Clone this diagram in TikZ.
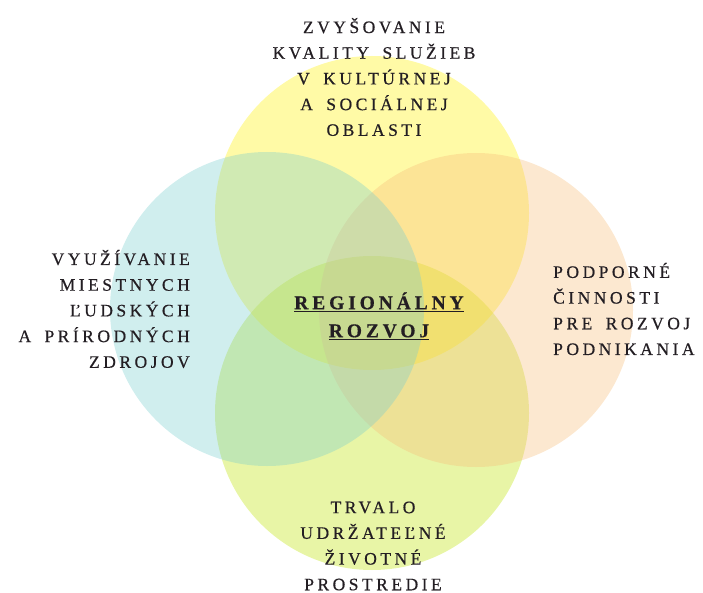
\documentclass[tikz,border=0pt]{standalone}
\usepackage{fontspec}
\setmainfont{Liberation Serif}[LetterSpace=20, FakeBold=0.5, WordSpace=1.7]
\definecolor{sunyellow}{RGB}{255,241,0}
\definecolor{skyblue}{RGB}{121,206,206}
\definecolor{peach}{RGB}{246,189,121}
\definecolor{limegreen}{RGB}{189,226,0}
\definecolor{inkgray}{RGB}{35,30,35}
\tikzset{
  petal/.style={circle, minimum size=314pt, inner sep=0pt, fill opacity=0.35},
  theme/.style={text=inkgray, inner sep=0pt, font=\fontsize{17.5}{25.7}\selectfont},
}

\begin{document}
\begin{tikzpicture}[x=1pt, y=-1pt]
			%%%%% START %%%%%
			\useasboundingbox (0,0) rectangle (703,593);
			
			\node[petal, fill=limegreen] (prostredie) at (372,413) {};
			\node[petal, fill=sunyellow] (kvalita) at (372,213) {};
			\node[petal, fill=peach] (podnikanie) at (476,310) {};
			\node[petal, fill=skyblue] (zdroje) at (267,309) {};
			
			\node[theme, align=center] (kvalitatext) at (374,77) {ZVYŠOVANIE\\KVALITY SLUŽIEB\\V KULTÚRNEJ\\A SOCIÁLNEJ\\OBLASTI};
			\node[theme, align=right, anchor=east] (zdrojetext) at (190,309) {VYUŽÍVANIE\\MIESTNYCH\\ĽUDSKÝCH\\A PRÍRODNÝCH\\ZDROJOV};
			\node[theme, align=left, anchor=west] (podnikanietext) at (553,309) {PODPORNÉ\\ČINNOSTI\\PRE ROZVOJ\\PODNIKANIA};
			\node[theme, align=center] (prostredietext) at (373,546) {TRVALO\\UDRŽATEĽNÉ\\ŽIVOTNÉ\\PROSTREDIE};
			
			\node[theme, align=center, font=\fontsize{19.5}{28}\selectfont\bfseries] (rozvoj) at (379,316) {\underline{REGIONÁLNY}\\\underline{ROZVOJ}};
			
			%%%%% END %%%%%
\end{tikzpicture}
\end{document}
